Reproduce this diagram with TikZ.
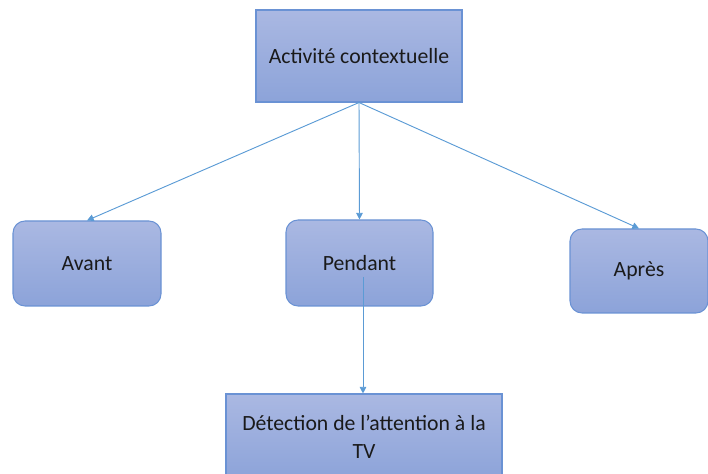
\documentclass[tikz,border=0pt]{standalone}
\usepackage{fontspec}
\setmainfont{Carlito}
\usepackage{tikz}
\usetikzlibrary{arrows.meta,positioning,calc}
\definecolor{boxtop}{HTML}{AAB8E2}
\definecolor{boxbot}{HTML}{8CA3D9}
\definecolor{boxline}{HTML}{6A92D4}
\definecolor{flux}{HTML}{5B9BD5}
\definecolor{texte}{HTML}{1A1A1A}
\tikzset{
  bloc/.style={rectangle, draw=boxline, line width=0.8pt, top color=boxtop, bottom color=boxbot,
               align=center, text=texte, font=\fontsize{16.3}{21}\selectfont},
  etape/.style={bloc, rounded corners=9pt},
  arr/.style={-{Triangle[length=5pt,width=5pt]}, line width=0.7pt, draw=flux},
}
\begin{document}
\begin{tikzpicture}[x=0.75pt,y=-0.75pt]
        \useasboundingbox (0,0) rectangle (708,474);
        \node[bloc, minimum width=154.5pt, minimum height=69pt] (act) at (359,56) {Activité contextuelle};
        \node[etape, minimum width=111pt, minimum height=63.75pt] (avant) at (87,263.5) {Avant};
        \node[etape, minimum width=110.25pt, minimum height=64.5pt] (pendant) at (359.5,263) {Pendant};
        \node[etape, minimum width=103.5pt, minimum height=63pt] (apres) at (639,271) {Après};
        \node[bloc, minimum width=207pt, minimum height=64.5pt] (tv) at (364,437) {Détection de l’attention à la\\TV};
        \coordinate (p0) at (363,277);
        \draw[arr] (act.south) -- (avant.north); \draw[arr] (act.south) -- (pendant.north); \draw[arr] (act.south) -- (apres.north);
        \draw[arr] (p0) -- (p0 |- tv.north);
      \end{tikzpicture}
\end{document}
